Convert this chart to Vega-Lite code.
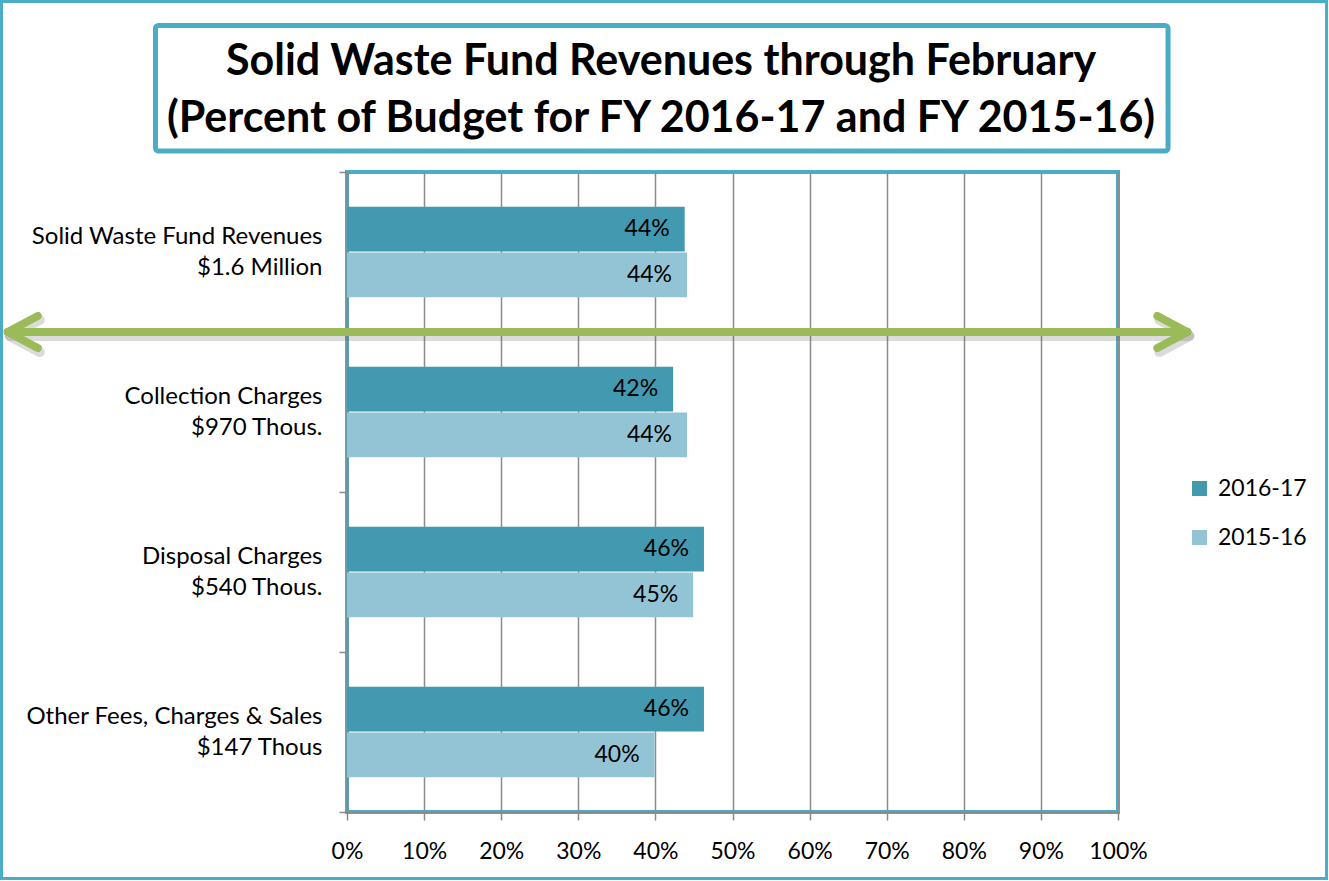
{
  "$schema": "https://vega.github.io/schema/vega-lite/v6.json",
  "background": "white",
  "padding": 0,
  "autosize": {"type": "pad"},
  "width": 771,
  "height": 640,
  "config": {
    "font": "Lato",
    "view": {"stroke": "#4BACC6", "strokeWidth": 4},
    "axis": {"labelColor": "black", "labelFont": "Lato", "titleFont": "Lato"}
  },
  "data": {"values": [
    {"category": "Solid Waste Fund Revenues|$1.6 Million", "year": "2016-17", "pct": 0.438},
    {"category": "Solid Waste Fund Revenues|$1.6 Million", "year": "2015-16", "pct": 0.441},
    {"category": "Collection Charges|$970 Thous.", "year": "2016-17", "pct": 0.423},
    {"category": "Collection Charges|$970 Thous.", "year": "2015-16", "pct": 0.441},
    {"category": "Disposal Charges|$540 Thous.", "year": "2016-17", "pct": 0.463},
    {"category": "Disposal Charges|$540 Thous.", "year": "2015-16", "pct": 0.449},
    {"category": "Other Fees, Charges & Sales|$147 Thous", "year": "2016-17", "pct": 0.463},
    {"category": "Other Fees, Charges & Sales|$147 Thous", "year": "2015-16", "pct": 0.399}
  ]},
  "resolve": {"scale": {"y": "independent"}, "axis": {"y": "independent"}},
  "layer": [
    {
      "encoding": {
        "y": {
          "field": "category", "type": "nominal", "sort": null, "title": null,
          "scale": {"paddingInner": 0, "paddingOuter": 0},
          "axis": {
            "orient": "left",
            "labelExpr": "split(datum.label, '|')",
            "labelFontSize": 24, "labelLineHeight": 31, "labelPadding": 17, "labelLimit": 500,
            "labelOffset": -16,
            "tickBand": "extent", "tickColor": "#888", "tickSize": 8, "tickWidth": 1.5,
            "domainColor": "#888", "domainWidth": 1.5, "labelAlign": "right"
          }
        }
      },
      "layer": [
        {
          "mark": {"type": "bar"},
          "encoding": {
            "x": {
              "field": "pct", "type": "quantitative", "title": null,
              "scale": {"domain": [0, 1], "nice": false},
              "axis": {
                "format": ".0%", "values": [0, 0.1, 0.2, 0.3, 0.4, 0.5, 0.6, 0.7, 0.8, 0.9, 1],
                "labelOverlap": false, "labelFlush": false,
                "grid": true, "gridColor": "#8c8c8c", "gridWidth": 1.5,
                "tickColor": "#888", "tickSize": 8, "tickWidth": 1.5,
                "domainColor": "#888", "domainWidth": 1.5,
                "labelFontSize": 23, "labelPadding": 20
              }
            },
            "yOffset": {"field": "year", "type": "nominal", "sort": ["2016-17", "2015-16"], "scale": {"paddingInner": 0.02, "paddingOuter": 0.76}},
            "color": {
              "field": "year", "type": "nominal", "sort": ["2016-17", "2015-16"],
              "scale": {"domain": ["2016-17", "2015-16"], "range": ["#4399B0", "#93C4D6"]},
              "legend": {
                "title": null, "orient": "none", "legendX": 841, "legendY": 305,
                "symbolType": "square", "symbolSize": 225, "symbolStrokeWidth": 0,
                "labelFontSize": 23, "labelColor": "black", "rowPadding": 25, "labelOffset": 7
              }
            }
          }
        },
        {
          "mark": {"type": "text", "align": "right", "baseline": "middle", "dx": -15, "fontSize": 23, "color": "black"},
          "encoding": {
            "x": {"field": "pct", "type": "quantitative"},
            "yOffset": {"field": "year", "type": "nominal", "sort": ["2016-17", "2015-16"]},
            "text": {"field": "pct", "type": "quantitative", "format": ".0%"}
          }
        },
        {
          "data": {"values": [{"arrow": "shadow"}]},
          "mark": {"type": "rule", "color": "#606060", "opacity": 0.22, "strokeWidth": 10, "strokeCap": "round", "yOffset": 4, "xOffset": 2, "x2Offset": 2},
          "encoding": {
            "x": {"datum": -0.44, "type": "quantitative"},
            "x2": {"datum": 1.09},
            "y": {"datum": "Solid Waste Fund Revenues|$1.6 Million", "type": "nominal", "bandPosition": 1}
          }
        },
        {
          "data": {"values": [{"arrow": "left shadow"}]},
          "mark": {"type": "point", "shape": "M 2 -1.07 L 0 0 L 2 1.07", "size": 900, "filled": false, "stroke": "#606060", "strokeWidth": 10, "strokeCap": "round", "strokeJoin": "round", "opacity": 0.22, "yOffset": 4, "xOffset": 2},
          "encoding": {
            "x": {"datum": -0.44, "type": "quantitative"},
            "y": {"datum": "Solid Waste Fund Revenues|$1.6 Million", "type": "nominal", "bandPosition": 1}
          }
        },
        {
          "data": {"values": [{"arrow": "right shadow"}]},
          "mark": {"type": "point", "shape": "M -2 -1.07 L 0 0 L -2 1.07", "size": 900, "filled": false, "stroke": "#606060", "strokeWidth": 10, "strokeCap": "round", "strokeJoin": "round", "opacity": 0.22, "yOffset": 4, "xOffset": 2},
          "encoding": {
            "x": {"datum": 1.09, "type": "quantitative"},
            "y": {"datum": "Solid Waste Fund Revenues|$1.6 Million", "type": "nominal", "bandPosition": 1}
          }
        },
        {
          "data": {"values": [{"arrow": "both"}]},
          "mark": {"type": "rule", "color": "#9BBB59", "strokeWidth": 8, "strokeCap": "round"},
          "encoding": {
            "x": {"datum": -0.44, "type": "quantitative"},
            "x2": {"datum": 1.09},
            "y": {"datum": "Solid Waste Fund Revenues|$1.6 Million", "type": "nominal", "bandPosition": 1}
          }
        },
        {
          "data": {"values": [{"arrow": "left"}]},
          "mark": {"type": "point", "shape": "M 2 -1.07 L 0 0 L 2 1.07", "size": 900, "filled": false, "stroke": "#9BBB59", "strokeWidth": 8, "strokeCap": "round", "strokeJoin": "round", "opacity": 1},
          "encoding": {
            "x": {"datum": -0.44, "type": "quantitative"},
            "y": {"datum": "Solid Waste Fund Revenues|$1.6 Million", "type": "nominal", "bandPosition": 1}
          }
        },
        {
          "data": {"values": [{"arrow": "right"}]},
          "mark": {"type": "point", "shape": "M -2 -1.07 L 0 0 L -2 1.07", "size": 900, "filled": false, "stroke": "#9BBB59", "strokeWidth": 8, "strokeCap": "round", "strokeJoin": "round", "opacity": 1},
          "encoding": {
            "x": {"datum": 1.09, "type": "quantitative"},
            "y": {"datum": "Solid Waste Fund Revenues|$1.6 Million", "type": "nominal", "bandPosition": 1}
          }
        }
      ]
    },
    {
      "data": {"values": [{"decor": "frame"}]},
      "layer": [
        {
          "mark": {"type": "rect", "filled": false, "stroke": "#4BACC6", "strokeWidth": 3},
          "encoding": {
            "x": {"datum": -0.4481, "type": "quantitative"},
            "x2": {"datum": 1.2705},
            "y": {"datum": 1.2664, "type": "quantitative", "scale": {"domain": [0, 1], "nice": false, "zero": false}, "axis": null},
            "y2": {"datum": -0.1039}
          }
        },
        {
          "mark": {"type": "rect", "filled": false, "stroke": "#4BACC6", "strokeWidth": 5, "cornerRadius": 3},
          "encoding": {
            "x": {"datum": -0.2484, "type": "quantitative"},
            "x2": {"datum": 1.0649},
            "y": {"datum": 1.2289, "type": "quantitative"},
            "y2": {"datum": 1.0328}
          }
        },
        {
          "mark": {"type": "text", "fontSize": 43, "fontWeight": "bold", "color": "black", "align": "center", "baseline": "alphabetic"},
          "encoding": {
            "x": {"datum": 0.4073, "type": "quantitative"},
            "y": {"datum": 1.1516, "type": "quantitative"},
            "text": {"value": "Solid Waste Fund Revenues through February"}
          }
        },
        {
          "mark": {"type": "text", "fontSize": 43, "fontWeight": "bold", "color": "black", "align": "center", "baseline": "alphabetic"},
          "encoding": {
            "x": {"datum": 0.4073, "type": "quantitative"},
            "y": {"datum": 1.0625, "type": "quantitative"},
            "text": {"value": "(Percent of Budget for FY 2016-17 and FY 2015-16)"}
          }
        }
      ]
    }
  ]
}
